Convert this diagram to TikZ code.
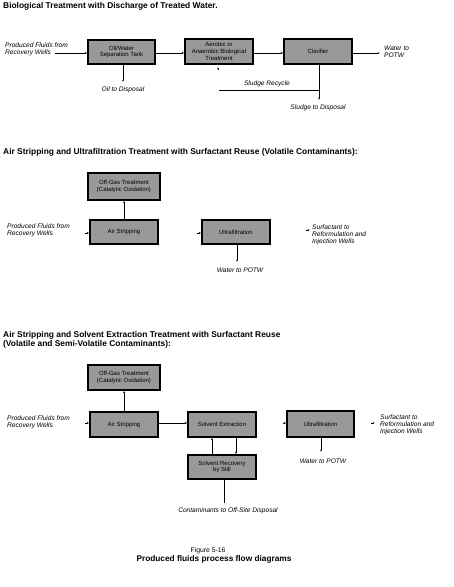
\documentclass[tikz,border=0pt]{standalone}
\usepackage{fontspec}
\setmainfont{Liberation Sans}
\usetikzlibrary{arrows.meta}
\begin{document}
\begin{tikzpicture}[x=1pt,y=-1pt,
  box/.style={draw, line width=1.3pt, fill=black!40, inner sep=0pt, align=center, font=\fontsize{6}{6.8}\selectfont},
  lbl/.style={inner sep=0pt, align=left, font=\fontsize{6.6}{7}\selectfont\itshape},
  clbl/.style={inner sep=0pt, align=center, font=\fontsize{6.6}{7}\selectfont\itshape},
  ttl/.style={inner sep=0pt, anchor=west, align=left, font=\fontsize{8.4}{7.5}\selectfont\bfseries},
  flow/.style={line width=0.6pt, -{Latex[length=2.2pt,width=1.8pt]}},
  pl/.style={line width=0.6pt}]
\useasboundingbox (0,0) rectangle (454,587);

% ---------- Diagram 1 ----------
\node[ttl] (t1) at (3,6) {Biological Treatment with Discharge of Treated Water.};
\node[lbl, anchor=west] (in1) at (5,49) {Produced Fluids from\\Recovery Wells};
\coordinate (in1e) at (55,53);
\node[box, minimum width=67pt, minimum height=24pt] (b1) at (121.5,52) {Oil/Water\\Separation Tank};
\node[box, minimum width=68pt, minimum height=25pt] (b2) at (219,51.5) {Aerobic or\\Anaerobic Biological\\Treatment};
\node[box, minimum width=68pt, minimum height=25pt] (b3) at (318,51.5) {Clarifier};
\draw[flow] (in1e) -- (in1e -| b1.west);
\draw[flow] (b1.east |- 0,53) -- (b2.west |- 0,53);
\draw[flow] (b2.east |- 0,53) -- (b3.west |- 0,53);
\coordinate (w1) at (380,53);
\draw[flow] (b3.east |- w1) -- (w1);
\node[lbl, anchor=west] (w1t) at (384,52) {Water to\\POTW};
\coordinate (oil) at (123,82);
\draw[flow] (b1.south -| oil) -- (oil);
\node[clbl] (oilt) at (123,90) {Oil to Disposal};
\coordinate (rc) at (218,67);
\draw[flow] (218,70) -- (rc);
\coordinate (sd) at (319,100);
\coordinate (sr) at (219,90);
\draw[flow] (b3.south -| sd) -- (sd);
\draw[pl] (319,90) -- (sr);
\node[clbl] (srt) at (267,84) {Sludge Recycle};
\node[clbl] (sdt) at (318,108) {Sludge to Disposal};

% ---------- Diagram 2 ----------
\node[ttl] (t2) at (3,152) {Air Stripping and Ultrafiltration Treatment with Surfactant Reuse (Volatile Contaminants):};
\node[box, minimum width=72pt, minimum height=27pt] (g2) at (124,186.5) {Off-Gas Treatment\\(Catalytic Oxidation)};
\node[box, minimum width=68pt, minimum height=24pt] (a2) at (124,232) {Air Stripping};
\node[box, minimum width=68pt, minimum height=24pt] (u2) at (236,232) {Ultrafiltration};
\draw[flow] (a2.north) -- (g2.south);
\node[lbl, anchor=west] (in2) at (7,230) {Produced Fluids from\\Recovery Wells};
\draw[flow] (85,233) -- (a2.west |- 0,233);
\draw[flow] (197,233) -- (u2.west |- 0,233);
\coordinate (w2) at (237,262);
\draw[flow] (u2.south -| w2) -- (w2);
\node[clbl] (w2t) at (240,270) {Water to POTW};
\draw[flow] (306,230) -- (310,230);
\node[lbl, anchor=north west] (s2t) at (312,225) {Surfactant to\\Reformulation and\\Injection Wells};

% ---------- Diagram 3 ----------
\node[ttl] (t3) at (3,339.5) {Air Stripping and Solvent Extraction Treatment with Surfactant Reuse\\(Volatile and Semi-Volatile Contaminants):};
\node[box, minimum width=72pt, minimum height=25pt] (g3) at (124,377.5) {Off-Gas Treatment\\(Catalytic Oxidation)};
\node[box, minimum width=68pt, minimum height=25pt] (a3) at (124,424.5) {Air Stripping};
\node[box, minimum width=68pt, minimum height=25pt] (s3) at (222,424.5) {Solvent Extraction};
\node[box, minimum width=67pt, minimum height=26pt] (u3) at (320.5,424) {Ultrafiltration};
\node[box, minimum width=68pt, minimum height=24pt] (r3) at (222,467) {Solvent Recovery\\by Still};
\draw[flow] (a3.north) -- (g3.south);
\draw[flow] (a3.east |- 0,423) -- (s3.west |- 0,423);
\draw[flow] (r3.north -| 212,0) -- (s3.south -| 212,0);
\draw[flow] (s3.south -| 236,0) -- (r3.north -| 236,0);
\coordinate (cd) at (224,503);
\draw[pl] (r3.south -| cd) -- (cd);
\node[clbl] (cdt) at (228,511) {Contaminants to Off-Site Disposal};
\node[lbl, anchor=west] (in3) at (7,422) {Produced Fluids from\\Recovery Wells};
\draw[flow] (85,423) -- (a3.west |- 0,423);
\draw[flow] (283,423) -- (u3.west |- 0,423);
\coordinate (w3) at (321,452);
\draw[flow] (u3.south -| w3) -- (w3);
\node[clbl] (w3t) at (323,461) {Water to POTW};
\draw[flow] (371,423) -- (375,423);
\node[lbl, anchor=north west] (s3t) at (380,415) {Surfactant to\\Reformulation and\\Injection Wells};

% ---------- Caption ----------
\node[inner sep=0pt, font=\fontsize{6.8}{7}\selectfont] (f1) at (208,551) {Figure 5-16};
\node[inner sep=0pt, font=\fontsize{8.3}{7}\selectfont\bfseries] (f2) at (214,559.5) {Produced fluids process flow diagrams};
\end{tikzpicture}
\end{document}
